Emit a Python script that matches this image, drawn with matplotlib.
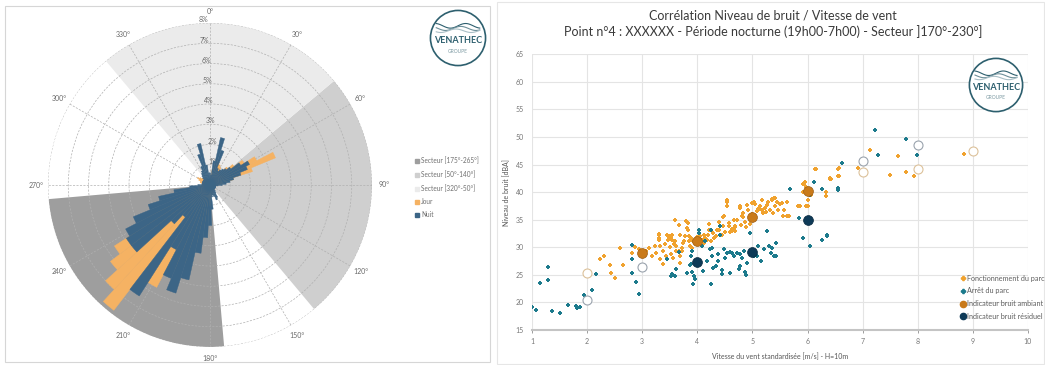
import numpy as np
import matplotlib
matplotlib.use('Agg')
import matplotlib.pyplot as plt
from matplotlib.patches import Rectangle, Circle, Patch
from matplotlib.lines import Line2D

plt.rcParams['font.family'] = ['Lato', 'DejaVu Sans']

W, H = 1045, 365

# ---------------- Wind rose data (percent of time per 5° direction bin) -------------
rose_dirs = list(range(0, 360, 5))
jour = [0.3, 0.5, 0.8, 1.0, 1.2, 1.1, 1.0, 0.9, 0.8, 1.2, 1.5, 2.0,
        2.6, 3.5, 2.2, 1.2, 0.8, 0.5, 0.4, 0.3, 0.3, 0.2, 0.2, 0.2,
        0.2, 0.2, 0.2, 0.3, 0.3, 0.3, 0.3, 0.4, 0.4, 0.5, 0.5, 0.6,
        1.0, 1.5, 2.0, 3.0, 4.0, 4.5, 5.7, 5.0, 7.8, 7.0, 6.2, 5.6,
        3.5, 2.0, 0.8, 0.6, 0.5, 0.4, 0.4, 0.4, 0.4, 0.5, 0.5, 0.6,
        0.7, 0.6, 0.5, 0.4, 0.3, 0.3, 0.3, 0.3, 0.3, 0.3, 0.3, 0.3]
nuit = [0.6, 0.5, 1.2, 2.4, 1.8, 0.9, 0.8, 0.9, 1.0, 1.1, 1.3, 1.8,
        2.2, 2.0, 1.6, 1.2, 1.0, 0.8, 0.6, 0.4, 0.3, 0.3, 0.3, 0.3,
        0.3, 0.3, 0.3, 0.3, 0.4, 0.5, 0.7, 0.8, 0.6, 0.5, 0.6, 1.2,
        2.0, 2.6, 3.4, 4.8, 5.6, 5.0, 3.6, 6.5, 2.0, 2.6, 4.9, 4.9,
        4.7, 4.1, 3.2, 2.6, 1.8, 1.0, 0.6, 0.4, 0.4, 0.4, 0.4, 0.4,
        0.4, 0.4, 0.4, 0.5, 0.6, 0.7, 0.8, 1.0, 1.6, 2.1, 1.0, 0.6]
sector_labels = ['Secteur [175°-265°]', 'Secteur [50°-140°]', 'Secteur [320°-50°]']
sector_starts = [175, 50, 320]
sector_ends = [265, 140, 50]
sector_colors = ['#9e9e9e', '#cfcfcf', '#ebebeb']
rose_labels = ['Jour', 'Nuit']
rose_colors = ['#f5b263', '#3c6586']

# ---------------- Scatter data --------------------------------------------------------
fon_x = [2.23, 2.42, 2.44, 2.51, 2.59, 2.66, 2.81, 2.87, 3.07, 3.17, 3.23, 3.31, 3.31,
         3.32, 3.37, 3.38, 3.44, 3.47, 3.47, 3.53, 3.53, 3.56, 3.59, 3.60, 3.61, 3.62,
         3.67, 3.68, 3.69, 3.72, 3.72, 3.75, 3.78, 3.80, 3.82, 3.84, 3.87, 3.88, 3.93,
         3.96, 4.08, 4.14, 4.19, 4.21, 4.22, 4.28, 4.31, 4.36, 4.47, 4.47, 4.50, 4.53,
         4.53, 4.58, 4.59, 4.62, 4.68, 4.68, 4.77, 4.80, 4.83, 4.83, 4.86, 4.89, 4.92,
         4.95, 4.99, 5.05, 5.08, 4.90, 5.03, 5.14, 5.17, 5.20, 5.23, 5.26, 5.29, 5.32,
         5.35, 5.38, 5.41, 5.41, 5.47, 5.53, 5.55, 5.58, 5.62, 5.67, 5.83, 5.92, 5.92,
         5.95, 5.97, 5.98, 6.00, 6.07, 6.13, 6.33, 6.33, 6.40, 6.40, 6.55, 6.55, 6.92,
         7.13, 7.49, 7.64, 7.78, 7.93, 8.84,
         3.30, 3.30, 3.33, 3.45, 3.48, 3.54, 3.54, 3.66, 3.69, 3.83, 3.83, 3.85, 3.91,
         4.12, 4.12, 4.18, 4.39, 4.45, 4.49, 4.54, 4.57, 4.63, 4.69, 4.78, 4.81, 5.13,
         5.18, 5.27, 5.36, 5.39, 5.45, 5.63, 5.87, 5.93, 6.00, 6.15, 6.42, 6.57, 6.57,
         2.30, 2.95, 3.00, 3.12, 3.25, 3.42, 3.50, 3.58, 3.74, 4.00, 4.05, 4.25, 4.34,
         4.40, 4.66, 4.72, 4.98, 5.10, 5.00, 5.24, 5.50]
fon_y = [27.9, 26.8, 25.4, 24.5, 29.8, 26.8, 28.9, 30.1, 29.3, 28.4, 30.2, 32.5, 31.7,
         27.9, 26.9, 29.3, 28.4, 32.0, 31.4, 31.7, 28.7, 28.1, 35.0, 31.1, 30.2, 29.3,
         34.1, 32.3, 27.2, 29.9, 29.3, 31.1, 32.0, 34.7, 33.5, 31.1, 30.2, 31.7, 31.1,
         30.8, 31.4, 31.7, 32.3, 33.2, 34.3, 32.6, 31.7, 33.2, 35.5, 33.9, 32.7, 38.5,
         37.4, 34.4, 32.8, 33.3, 33.0, 33.6, 37.4, 34.1, 36.3, 35.5, 34.6, 33.6, 36.8,
         34.3, 38.0, 37.9, 36.5, 37.7, 38.3, 37.4, 38.6, 36.2, 37.1, 37.7, 38.3, 36.8,
         38.8, 36.2, 39.0, 37.4, 36.8, 38.0, 35.7, 36.8, 38.3, 35.6, 37.4, 41.4, 40.1,
         41.9, 41.0, 37.4, 38.6, 39.4, 44.2, 40.1, 39.3, 42.3, 42.6, 44.2, 43.0, 44.4,
         47.6, 43.2, 46.6, 43.6, 42.9, 47.0,
         32.3, 31.4, 30.2, 32.3, 32.0, 32.3, 31.4, 29.3, 28.4, 33.2, 34.4, 32.0, 29.9,
         32.3, 30.8, 31.4, 33.2, 32.3, 35.6, 38.3, 33.8, 32.9, 33.8, 37.1, 35.6, 36.9,
         36.7, 37.7, 38.6, 38.9, 38.3, 35.6, 37.4, 41.4, 37.4, 44.2, 42.3, 44.4, 42.9,
         28.5, 29.6, 28.6, 29.9, 29.0, 30.6, 30.0, 30.6, 30.8, 31.8, 32.0, 31.2, 32.0,
         34.6, 35.0, 34.9, 35.2, 37.0, 36.0, 36.4, 37.9]

arr_x = [1.00, 1.08, 1.15, 1.29, 1.29, 1.36, 1.51, 1.66, 1.80, 1.81, 1.87, 1.95, 2.09,
         2.16, 2.82, 2.82, 2.82, 2.88, 2.94, 3.45, 3.54, 3.60, 3.66, 3.61, 3.82, 3.86,
         3.88, 3.88, 3.90, 3.91, 3.94, 3.95, 3.92, 4.03, 4.03, 4.09, 4.10, 4.18, 4.23,
         4.24, 4.27, 4.27, 4.33, 4.24, 4.29, 4.37, 4.38, 4.41, 4.42, 4.45, 4.45, 4.48,
         4.51, 4.54, 4.59, 4.60, 4.62, 4.66, 4.72, 4.75, 4.77, 4.78, 4.81, 4.84, 4.87,
         4.89, 4.90, 4.95, 5.03, 5.03, 5.09, 5.10, 5.16, 5.21, 5.27, 5.30, 5.33, 5.36,
         5.39, 5.42, 5.42, 5.69, 5.85, 5.91, 6.05, 6.05, 6.11, 6.27, 6.27, 6.35, 6.35,
         6.55, 6.55, 6.63, 7.22, 7.28, 7.78, 7.98, 4.14, 3.53]
arr_y = [19.2, 18.7, 23.6, 26.5, 24.0, 18.4, 18.0, 19.6, 19.3, 18.9, 19.2, 21.3, 22.2,
         25.2, 30.5, 27.9, 25.3, 23.7, 21.5, 27.8, 25.1, 24.8, 29.2, 26.0, 25.4, 26.7,
         28.4, 26.9, 29.3, 25.5, 24.8, 24.3, 23.4, 33.2, 32.6, 30.2, 25.7, 27.5, 29.6,
         33.2, 29.9, 28.5, 26.6, 23.4, 26.3, 27.5, 28.7, 33.8, 32.3, 25.9, 25.1, 29.7,
         28.1, 29.0, 29.1, 25.4, 29.0, 28.4, 29.0, 26.1, 26.6, 28.7, 28.1, 29.3, 25.5,
         25.0, 27.2, 32.6, 29.0, 28.4, 28.4, 30.2, 27.5, 29.7, 32.9, 30.2, 29.0, 29.9,
         28.4, 30.8, 28.4, 40.6, 35.3, 31.7, 39.4, 30.2, 41.9, 40.6, 31.3, 32.3, 32.0,
         40.4, 40.7, 45.2, 51.3, 46.7, 49.6, 46.7, 31.2, 24.8]

amb_x = [3, 4, 5, 6]
amb_y = [29.0, 31.2, 35.5, 40.2]
res_x = [4, 5, 6]
res_y = [27.3, 29.2, 35.0]
amb_open_x = [2, 7, 8, 9]
amb_open_y = [25.4, 43.6, 44.2, 47.4]
res_open_x = [2, 3, 7, 8]
res_open_y = [20.4, 26.5, 45.6, 48.5]
scatter_labels = ['Fonctionnement du parc', 'Arrêt du parc',
                  'Indicateur bruit ambiant', 'Indicateur bruit résiduel']

x_ticks = list(range(1, 11))
y_ticks = list(range(15, 70, 5))

title_1 = 'Corrélation Niveau de bruit / Vitesse de vent'
title_2 = 'Point n°4 : XXXXXX - Période nocturne (19h00-7h00) - Secteur ]170°-230°]'
xlabel = 'Vitesse du vent standardisée [m/s] - H=10m'
ylabel = 'Niveau de bruit [dBA]'

# ---------------------------------------------------------------------------------------
fig = plt.figure(figsize=(W / 100, H / 100), dpi=100)


def fx(px):
    return px / W


def fy(py):
    return 1 - py / H


# panel frames
fig.patches.append(Rectangle((fx(5), fy(362)), fx(490) - fx(5), fy(6) - fy(362),
                             transform=fig.transFigure, fill=False, ec='#d6d6d6', lw=0.8))
fig.patches.append(Rectangle((fx(497), fy(364)), fx(1044) - fx(497), fy(2) - fy(364),
                             transform=fig.transFigure, fill=False, ec='#e6e6e6', lw=0.8))

# ---------------- Polar wind rose ----------------
cx, cy, R = 210, 185, 162
ax1 = fig.add_axes([fx(cx - R), fy(cy + R), 2 * R / W, 2 * R / H], projection='polar')
ax1.set_theta_zero_location('N')
ax1.set_theta_direction(-1)
ax1.set_axisbelow(True)
for a, b, c in zip(sector_starts, sector_ends, sector_colors):
    width = (b - a) % 360
    ax1.bar(np.deg2rad(a + width / 2), 8, width=np.deg2rad(width), bottom=0,
            color=c, linewidth=0, zorder=0.2)
th = np.deg2rad(rose_dirs)
bw = np.deg2rad(5)
ax1.bar(th, jour, width=bw, bottom=0, color=rose_colors[0], linewidth=0.3,
        edgecolor=rose_colors[0], zorder=2)
ax1.bar(th, nuit, width=bw, bottom=0, color=rose_colors[1], linewidth=0.3,
        edgecolor=rose_colors[1], zorder=3)
ax1.set_ylim(0, 8)
ax1.set_thetagrids(np.arange(0, 360, 30), labels=[f'{d}°' for d in range(0, 360, 30)],
                   fontsize=5, color='#6a6a6a')
ax1.set_rgrids(np.arange(0, 9), labels=[f'{i}%' for i in range(9)], angle=356,
               fontsize=5, color='#6a6a6a')
ax1.tick_params(axis='x', pad=-2)
ax1.grid(True, color='#b0b0b0', lw=0.5, ls=(0, (3, 2)))
ax1.spines['polar'].set_visible(False)
ax1.patch.set_alpha(0)

handles1 = [Patch(color=c) for c in sector_colors] + [Patch(color=c) for c in rose_colors]
fig.legend(handles1, sector_labels + rose_labels, loc='upper left',
           bbox_to_anchor=(fx(412), fy(154)), fontsize=4.7, frameon=False,
           handlelength=0.6, handleheight=0.6, labelspacing=0.95, handletextpad=0.3,
           borderpad=0, labelcolor='#707070')

# ---------------- Scatter plot ----------------
ax2 = fig.add_axes([fx(532), fy(330), (1028 - 532) / W, (330 - 54.3) / H])
ax2.set_xlim(1, 10)
ax2.set_ylim(15, 65)
ax2.set_xticks(x_ticks)
ax2.set_yticks(y_ticks)
ax2.grid(True, color='#e4e4e4', lw=0.8)
ax2.set_axisbelow(True)
for s in ['top', 'right', 'left']:
    ax2.spines[s].set_visible(False)
ax2.spines['bottom'].set_color('#c4c4c4')
ax2.spines['bottom'].set_linewidth(1.5)
ax2.tick_params(axis='both', labelsize=5, colors='#777777', length=2, width=0.5)
ax2.tick_params(axis='y', length=0, pad=6)
ax2.set_xlabel(xlabel, fontsize=5, color='#555555', labelpad=6)
ax2.set_ylabel(ylabel, fontsize=5, color='#555555', labelpad=4)

c_fon, c_arr, c_amb, c_res = '#f0a22e', '#1c7a8c', '#c97a1a', '#0e3a57'
ax2.scatter(fon_x, fon_y, s=10, marker='P', color=c_fon, lw=0, zorder=3)
ax2.scatter(arr_x, arr_y, s=10, marker='P', color=c_arr, lw=0, zorder=3)
ax2.scatter(amb_open_x, amb_open_y, s=42, facecolor='white', edgecolor='#dcc19a', lw=0.8, zorder=4)
ax2.scatter(res_open_x, res_open_y, s=42, facecolor='white', edgecolor='#9aa3ad', lw=0.8, zorder=4)
ax2.scatter(amb_x, amb_y, s=50, color=c_amb, edgecolor='#9c5c12', lw=0.5, zorder=5)
ax2.scatter(res_x, res_y, s=50, color=c_res, edgecolor='#082a40', lw=0.5, zorder=5)

handles2 = [Line2D([], [], marker='P', ls='', color=c_fon, ms=3),
            Line2D([], [], marker='P', ls='', color=c_arr, ms=3),
            Line2D([], [], marker='o', ls='', color=c_amb, ms=4.5),
            Line2D([], [], marker='o', ls='', color=c_res, ms=4.5)]
fig.legend(handles2, scatter_labels, loc='upper left', bbox_to_anchor=(fx(957), fy(271)),
           fontsize=5.2, frameon=False, handlelength=0.7, handletextpad=0.2,
           labelspacing=0.8, borderpad=0, labelcolor='#606060')

fig.text(fx(773), fy(16), title_1, ha='center', va='center', fontsize=9, color='#3a3a3a')
fig.text(fx(773), fy(32), title_2, ha='center', va='center', fontsize=9, color='#3a3a3a')


# ---------------- Logos ----------------
def draw_logo(cxp, cyp, rp):
    lax = fig.add_axes([fx(cxp - rp), fy(cyp + rp), 2 * rp / W, 2 * rp / H])
    lax.set_xlim(-1, 1)
    lax.set_ylim(-1, 1)
    lax.axis('off')
    lax.add_patch(Circle((0, 0), 0.95, fc='white', ec='#2d5f6e', lw=1.2))
    t = np.linspace(-0.75, 0.75, 60)
    for k, (amp, off, col) in enumerate([(0.08, 0.42, '#2d5f6e'), (0.07, 0.33, '#6d8f99'),
                                         (0.06, 0.25, '#a9bfc6')]):
        lax.plot(t, off + amp * np.sin(6 * t + k), color=col, lw=0.8)
    lax.text(0, -0.08, 'VENATHEC', ha='center', va='center', fontsize=6.5,
             fontweight='bold', color='#2d5f6e')
    lax.text(0, -0.45, 'GROUPE', ha='center', va='center', fontsize=3.5, color='#7d9aa3')


draw_logo(458, 38, 29)
draw_logo(996, 85, 28)

fig.savefig('out.png', dpi=100)
